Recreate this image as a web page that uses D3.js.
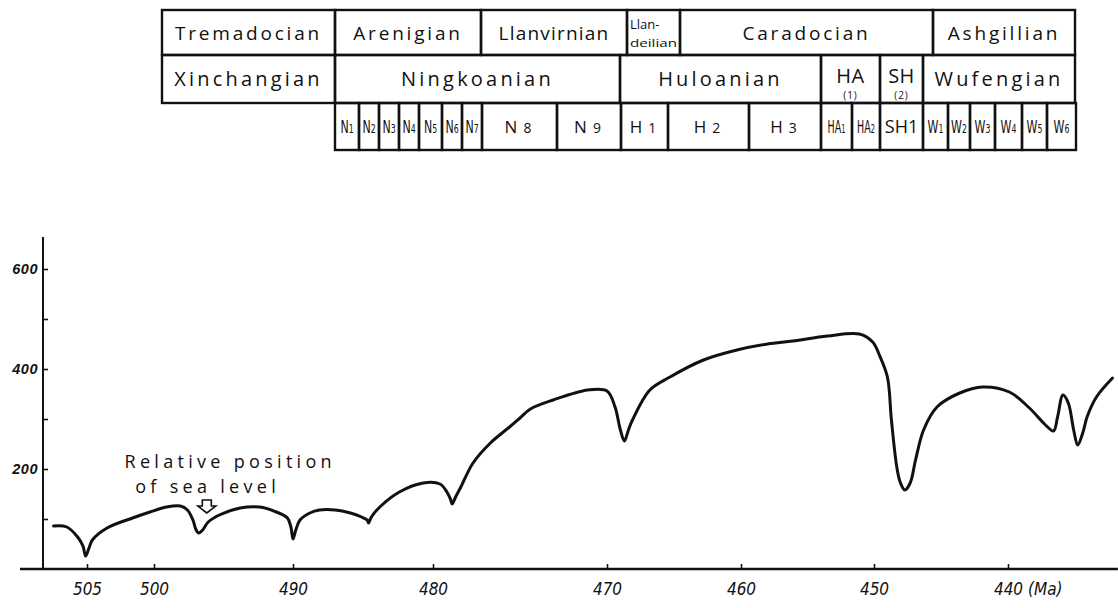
<!DOCTYPE html>
<html>
<head>
<meta charset="utf-8">
<script src="https://cdn.jsdelivr.net/npm/d3@7"></script>
<style>
  body { margin: 0; background: #fff; }
  svg { display: block; }
</style>
</head>
<body>
<svg id="chart" width="1118" height="608"></svg>
<script>
// ---- Stratigraphic units -------------------------------------------------
const britishSeries = ["Tremadocian", "Arenigian", "Llanvirnian", "Llan-|deilian", "Caradocian", "Ashgillian"];
const chineseStages = ["Xinchangian", "Ningkoanian", "Huloanian", "HA", "SH", "Wufengian"];
const stageNotes    = ["", "", "", "(1)", "(2)", ""];
const zones = ["N1", "N2", "N3", "N4", "N5", "N6", "N7", "N8", "N9",
               "H1", "H2", "H3", "HA1", "HA2", "SH1",
               "W1", "W2", "W3", "W4", "W5", "W6"];

// ---- Relative sea-level curve --------------------------------------------
const ageMa = [507.5, 506.5, 505.7, 505.3, 505.1, 504.85, 504.6, 503.5, 501.6, 500.3,
               499.1, 498.1, 497.6, 497.2, 497.0, 496.8, 496.5, 496.1, 495.3, 493.8,
               492.4, 491.2, 490.4, 490.15, 490.0, 489.8, 489.5, 488.8, 488.1, 487.0,
               485.9, 485.1, 484.7, 484.6, 484.4, 483.8, 482.4, 480.7, 479.6, 479.2,
               479.0, 478.9, 478.7, 478.4, 477.7, 476.7, 475.6, 475.0, 474.4, 473.1,
               471.1, 470.0, 469.4, 469.0, 468.7, 468.4, 468.1, 466.8, 465.3, 462.8,
               460.3, 458.0, 456.1, 453.5, 451.1, 450.1, 449.6, 449.0, 448.7, 448.3,
               448.05, 447.7, 447.3, 446.9, 446.3, 445.3, 443.6, 441.9, 439.9, 438.4,
               437.2, 436.6, 436.3, 435.9, 435.5, 435.1, 434.8, 434.4, 434.1, 433.4,
               432.2];
const seaLevel = [86, 84, 64, 46, 26, 42, 58, 82, 102, 114,
                  124, 126, 118, 98, 80, 72, 78, 94, 108, 122,
                  124, 114, 102, 84, 60, 78, 98, 112, 118, 118,
                  112, 104, 98, 92, 104, 124, 154, 172, 170, 154,
                  140, 130, 144, 164, 212, 252, 284, 302, 320, 338,
                  358, 356, 324, 278, 256, 278, 298, 358, 384, 418,
                  438, 450, 456, 466, 470, 454, 428, 384, 298, 204,
                  174, 158, 172, 218, 278, 324, 352, 364, 354, 322,
                  288, 276, 304, 348, 332, 278, 248, 274, 304, 344,
                  382];

// ---- Axis ticks ------------------------------------------------------------
const ageTicks   = [505, 500, 490, 480, 470, 460, 450, 440];
const levelTicks = [100, 200, 300, 400, 500, 600];
const levelLabels = [200, 400, 600];

// ---- Layout ------------------------------------------------------------------
const tableRows = [10, 55, 103, 150];
const seriesEdges = [162, 335, 481, 627, 680, 933, 1075];
const stageEdges  = [162, 335, 620, 821, 880, 923, 1075];
const zoneEdges   = [335, 359, 379, 399, 419, 442, 462, 482, 557, 621, 668, 749, 821,
                     852, 880, 923, 948, 970, 995, 1022, 1047, 1076];
const agePixels = [87, 154, 293, 433, 607, 741, 874, 1008];
const yAxisX = 43;

const tableFont = "'Open Sans', 'DejaVu Sans', sans-serif";
const numFont = "'Liberation Sans Narrow', 'DejaVu Sans Condensed', 'Liberation Sans', sans-serif";

const svg = d3.select("#chart");

// Hand-drawn time axis: piecewise linear between the labelled ages
const x = d3.scaleLinear().domain(ageTicks).range(agePixels);
const y = d3.scaleLinear().domain([0, 600]).range([569, 269]);

// ---- Correlation table --------------------------------------------------
const table = svg.append("g").attr("class", "table");

function cells(edges, top, bottom, labels) {
  return labels.map((label, i) => ({label, x0: edges[i], x1: edges[i + 1], y0: top, y1: bottom}));
}

const row1 = cells(seriesEdges, tableRows[0], tableRows[1], britishSeries);
const row2 = cells(stageEdges, tableRows[1], tableRows[2], chineseStages);
const row3 = cells(zoneEdges, tableRows[2], tableRows[3], zones);

[row1, row2, row3].forEach(row => {
  table.selectAll(null).data(row).enter().append("rect")
    .attr("x", d => d.x0).attr("y", d => d.y0)
    .attr("width", d => d.x1 - d.x0).attr("height", d => d.y1 - d.y0)
    .attr("fill", "none").attr("stroke", "#111").attr("stroke-width", 2.4);
});

// series names
row1.forEach(d => {
  const cx = (d.x0 + d.x1) / 2, cy = (d.y0 + d.y1) / 2;
  if (d.label.includes("|")) {
    const [a, b] = d.label.split("|");
    table.append("text").attr("x", d.x0 + 3).attr("y", cy - 4)
      .attr("font-family", tableFont).attr("font-size", 13).attr("fill", "#111").text(a);
    table.append("text").attr("x", d.x0 + 3).attr("y", cy + 14)
      .attr("font-family", tableFont).attr("font-size", 11).attr("fill", "#111")
      .attr("textLength", d.x1 - d.x0 - 6).attr("lengthAdjust", "spacingAndGlyphs").text(b);
  } else {
    table.append("text").attr("x", cx).attr("y", cy + 7)
      .attr("text-anchor", "middle").attr("font-family", tableFont)
      .attr("font-size", 19).attr("letter-spacing", d.label === "Llanvirnian" ? 1.2 : 2.8)
      .attr("fill", "#111").text(d.label);
  }
});

// stage names
row2.forEach((d, i) => {
  const cx = (d.x0 + d.x1) / 2, cy = (d.y0 + d.y1) / 2;
  const note = stageNotes[i];
  table.append("text").attr("x", cx).attr("y", note ? cy + 4 : cy + 7)
    .attr("text-anchor", "middle").attr("font-family", tableFont)
    .attr("font-size", 20).attr("letter-spacing", note ? 0.5 : 3.2)
    .attr("fill", "#111").text(d.label);
  if (note) {
    table.append("text").attr("x", cx).attr("y", d.y1 - 4)
      .attr("text-anchor", "middle").attr("font-family", tableFont)
      .attr("font-size", 10).attr("letter-spacing", 1).attr("fill", "#111").text(note);
  }
});

// zones: narrow cells get a horizontally condensed label
row3.forEach(d => {
  const w = d.x1 - d.x0, cx = (d.x0 + d.x1) / 2, cy = (d.y0 + d.y1) / 2;
  const m = d.label.match(/^([A-Z]+)(\d+)$/);
  const narrow = w < 36;
  const t = table.append("text")
    .attr("text-anchor", "middle").attr("fill", "#111")
    .attr("font-family", narrow ? numFont : tableFont);
  if (narrow) {
    const sx = m[1].length > 1 ? 0.62 : 0.72;
    t.attr("transform", `translate(${cx},${cy + 6}) scale(${sx},1)`)
     .attr("font-size", 17);
    t.append("tspan").text(m[1]);
    t.append("tspan").attr("font-size", 12).text(m[2]);
  } else if (d.label === "SH1") {
    t.attr("x", cx).attr("y", cy + 6).attr("font-size", 18).text(d.label);
  } else {
    t.attr("x", cx).attr("y", cy + 6).attr("font-size", 17).attr("letter-spacing", 3);
    t.append("tspan").text(m[1]);
    t.append("tspan").attr("font-size", 14).attr("dx", 3).text(m[2]);
  }
});

// ---- Axes ------------------------------------------------------------------
const axes = svg.append("g").attr("class", "axes");

// baseline spans beyond the labelled ages
axes.append("line")
  .attr("x1", x(510)).attr("x2", x(431.8))
  .attr("y1", y(0)).attr("y2", y(0))
  .attr("stroke", "#111").attr("stroke-width", 2.6);

const gx = axes.append("g").attr("transform", `translate(0,${y(0)})`)
  .call(d3.axisBottom(x).tickValues(ageTicks).tickSize(-5).tickPadding(14).tickFormat(d3.format("d")));
gx.select(".domain").remove();
gx.selectAll(".tick line").attr("stroke", "#111").attr("stroke-width", 1.6);
gx.selectAll(".tick text")
  .attr("font-family", numFont).attr("font-style", "italic")
  .attr("font-size", 17).attr("fill", "#111");

axes.append("text")
  .attr("x", x(440) + 20).attr("y", y(0) + 14).attr("dy", "0.71em")
  .attr("font-family", numFont).attr("font-style", "italic")
  .attr("font-size", 17).attr("fill", "#111").text("(Ma)");

axes.append("line")
  .attr("x1", yAxisX).attr("x2", yAxisX)
  .attr("y1", y(0)).attr("y2", y(664))
  .attr("stroke", "#111").attr("stroke-width", 2);

const gy = axes.append("g").attr("transform", `translate(${yAxisX},0)`)
  .call(d3.axisLeft(y).tickValues(levelTicks).tickSize(-5).tickPadding(5)
    .tickFormat(d => levelLabels.includes(d) ? d : ""));
gy.select(".domain").remove();
gy.selectAll(".tick line").attr("stroke", "#111").attr("stroke-width", 1.6);
gy.selectAll(".tick text")
  .attr("font-family", "'Liberation Sans', sans-serif").attr("font-style", "italic")
  .attr("font-weight", "bold").attr("font-size", 14.5).attr("letter-spacing", 0.5)
  .attr("fill", "#111");

// ---- Sea-level curve ----------------------------------------------------
const points = ageMa.map((a, i) => [a, seaLevel[i]]);
const line = d3.line()
  .x(d => x(d[0])).y(d => y(d[1]))
  .curve(d3.curveCatmullRom.alpha(0.5));

svg.append("path")
  .datum(points)
  .attr("d", line)
  .attr("fill", "none").attr("stroke", "#111")
  .attr("stroke-width", 3).attr("stroke-linejoin", "round").attr("stroke-linecap", "round");

// ---- Annotation -----------------------------------------------------------
const note = svg.append("g").attr("class", "annotation");
note.append("text")
  .attr("x", x(502.2)).attr("y", y(203))
  .attr("font-family", tableFont).attr("font-size", 18).attr("letter-spacing", 4.3)
  .attr("fill", "#111").text("Relative position");
note.append("text")
  .attr("x", x(501.4)).attr("y", y(153))
  .attr("font-family", tableFont).attr("font-size", 18).attr("letter-spacing", 4.3)
  .attr("fill", "#111").text("of sea level");

// outlined arrow pointing down to the curve
const tipX = x(496.2), tipY = y(112);
note.append("path")
  .attr("d", `M${tipX},${tipY} l-9,-7 h4.5 v-6 h9 v6 h4.5 z`)
  .attr("fill", "#fff").attr("stroke", "#111").attr("stroke-width", 1.6)
  .attr("stroke-linejoin", "miter");
</script>
</body>
</html>
